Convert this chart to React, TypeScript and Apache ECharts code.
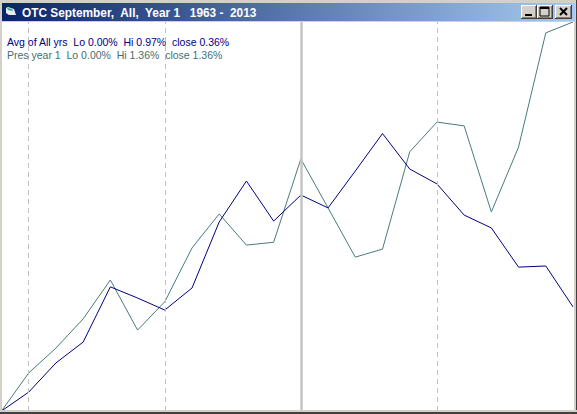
import React, { useEffect, useRef } from "react";
import * as echarts from "echarts";

const categories = ["0","1","2","3","4","5","6","7","8","9","10","11","12","13","14","15","16","17","18","19","20","21"];
const avgAllYears = [0, 0.066, 0.168, 0.241, 0.434, 0.395, 0.353, 0.43, 0.661, 0.804, 0.664, 0.755, 0.71, 0.839, 0.97, 0.846, 0.794, 0.685, 0.64, 0.503, 0.507, 0.364];
const presYear1 = [0, 0.133, 0.22, 0.322, 0.458, 0.283, 0.382, 0.57, 0.689, 0.58, 0.59, 0.881, 0.71, 0.538, 0.566, 0.906, 1.01, 0.997, 0.696, 0.923, 1.322, 1.36];
const dashedGridAt = ["1", "6", "16"];
const solidGridAt = ["11"];
const titleText = "OTC September,  All,  Year 1   1963 -  2013";
const avgText = "Avg of All yrs  Lo 0.00%  Hi 0.97%  close 0.36%";
const presText = "Pres year 1  Lo 0.00%  Hi 1.36%  close 1.36%";

const FONT = "Liberation Sans, Arial, sans-serif";

function raisedButton(x: number, y: number, w: number, h: number) {
  return [
    { type: "rect", shape: { x, y, width: w, height: h }, style: { fill: "#404040" }, silent: true },
    { type: "rect", shape: { x, y, width: w - 1, height: h - 1 }, style: { fill: "#ffffff" }, silent: true },
    { type: "rect", shape: { x: x + 1, y: y + 1, width: w - 2, height: h - 2 }, style: { fill: "#808080" }, silent: true },
    { type: "rect", shape: { x: x + 1, y: y + 1, width: w - 3, height: h - 3 }, style: { fill: "#d4d0c8" }, silent: true },
  ];
}

export default function App() {
  const ref = useRef<HTMLDivElement>(null);
  useEffect(() => {
    document.body.style.margin = "0";
    const chart = echarts.init(ref.current!, undefined, { renderer: "svg" });
    const black = { fill: "#000000" };
    chart.setOption({
      animation: false,
      backgroundColor: "#ffffff",
      grid: { left: 1.5, right: 4, top: 22, bottom: 3 },
      xAxis: {
        type: "category",
        data: categories,
        boundaryGap: false,
        axisLine: { show: false },
        axisTick: { show: false },
        axisLabel: { show: false },
        splitLine: { show: false },
      },
      yAxis: {
        type: "value",
        min: 0,
        max: 1.36,
        axisLine: { show: false },
        axisTick: { show: false },
        axisLabel: { show: false },
        splitLine: { show: false },
      },
      series: [
        {
          type: "line",
          name: "Grid",
          data: [],
          silent: true,
          z: 1,
          markLine: {
            silent: true,
            symbol: "none",
            label: { show: false },
            animation: false,
            data: [
              ...dashedGridAt.map((c) => ({ xAxis: c, lineStyle: { color: "#c0c0c0", width: 1, type: [5, 4] } })),
              ...solidGridAt.map((c) => ({ xAxis: c, lineStyle: { color: "#c4c4c4", width: 2.5, type: "solid" } })),
            ],
          },
        },
        {
          type: "line",
          name: "Pres year 1",
          data: presYear1,
          symbol: "none",
          z: 3,
          lineStyle: { color: "#4a7a7a", width: 1 },
        },
        {
          type: "line",
          name: "Avg of All yrs",
          data: avgAllYears,
          symbol: "none",
          z: 4,
          lineStyle: { color: "#000080", width: 1 },
        },
      ],
      graphic: [
        // window frame
        { type: "rect", z: 10, silent: true, shape: { x: 0, y: 0, width: 577, height: 22 }, style: { fill: "#d4d0c8" } },
        { type: "rect", z: 10, silent: true, shape: { x: 0, y: 0, width: 2, height: 414 }, style: { fill: "#d4d0c8" } },
        { type: "rect", z: 10, silent: true, shape: { x: 574, y: 0, width: 3, height: 414 }, style: { fill: "#d4d0c8" } },
        { type: "rect", z: 10, silent: true, shape: { x: 576, y: 0, width: 1, height: 414 }, style: { fill: "#404040" } },
        { type: "rect", z: 10, silent: true, shape: { x: 0, y: 410, width: 577, height: 2 }, style: { fill: "#d4d0c8" } },
        { type: "rect", z: 10, silent: true, shape: { x: 0, y: 412, width: 577, height: 2 }, style: { fill: "#404040" } },
        {
          type: "rect", z: 11, silent: true,
          shape: { x: 2, y: 3, width: 573, height: 18 },
          style: {
            fill: new echarts.graphic.LinearGradient(0, 0, 1, 0, [
              { offset: 0, color: "#0a246a" },
              { offset: 1, color: "#a6caf0" },
            ]),
          },
        },
        // title icon
        { type: "polygon", z: 12, silent: true, shape: { points: [[6, 8], [8, 7], [14, 9], [16, 15], [9, 15], [6, 13]] }, style: { fill: "#e8eef0" } },
        { type: "polygon", z: 13, silent: true, shape: { points: [[7, 8], [12, 9], [13, 11], [8, 10]] }, style: { fill: "#2fa0a0" } },
        { type: "text", z: 12, silent: true, x: 22, y: 7, style: { text: titleText, fill: "#ffffff", font: `bold 11.85px ${FONT}` } },
        // window buttons
        ...raisedButton(521, 5, 16, 14).map((e) => ({ ...e, z: 12 })),
        ...raisedButton(537, 5, 16, 14).map((e) => ({ ...e, z: 12 })),
        ...raisedButton(555, 5, 17, 14).map((e) => ({ ...e, z: 12 })),
        { type: "rect", z: 13, silent: true, shape: { x: 525, y: 14, width: 7, height: 2 }, style: black },
        { type: "rect", z: 13, silent: true, shape: { x: 540, y: 7, width: 9, height: 9 }, style: { fill: "none", stroke: "#000000", lineWidth: 1 } },
        { type: "rect", z: 13, silent: true, shape: { x: 540, y: 7, width: 9, height: 2 }, style: black },
        { type: "line", z: 13, silent: true, shape: { x1: 560, y1: 8, x2: 567, y2: 15 }, style: { stroke: "#000000", lineWidth: 2 } },
        { type: "line", z: 13, silent: true, shape: { x1: 567, y1: 8, x2: 560, y2: 15 }, style: { stroke: "#000000", lineWidth: 2 } },
        // captions
        { type: "text", z: 14, silent: true, x: 7, y: 36, style: { text: avgText, fill: "#000080", font: `10.5px ${FONT}` } },
        { type: "text", z: 14, silent: true, x: 7, y: 49, style: { text: presText, fill: "#3f7070", font: `10.5px ${FONT}` } },
      ],
    });
    return () => chart.dispose();
  }, []);
  return <div ref={ref} style={{ width: 577, height: 414 }} />;
}
